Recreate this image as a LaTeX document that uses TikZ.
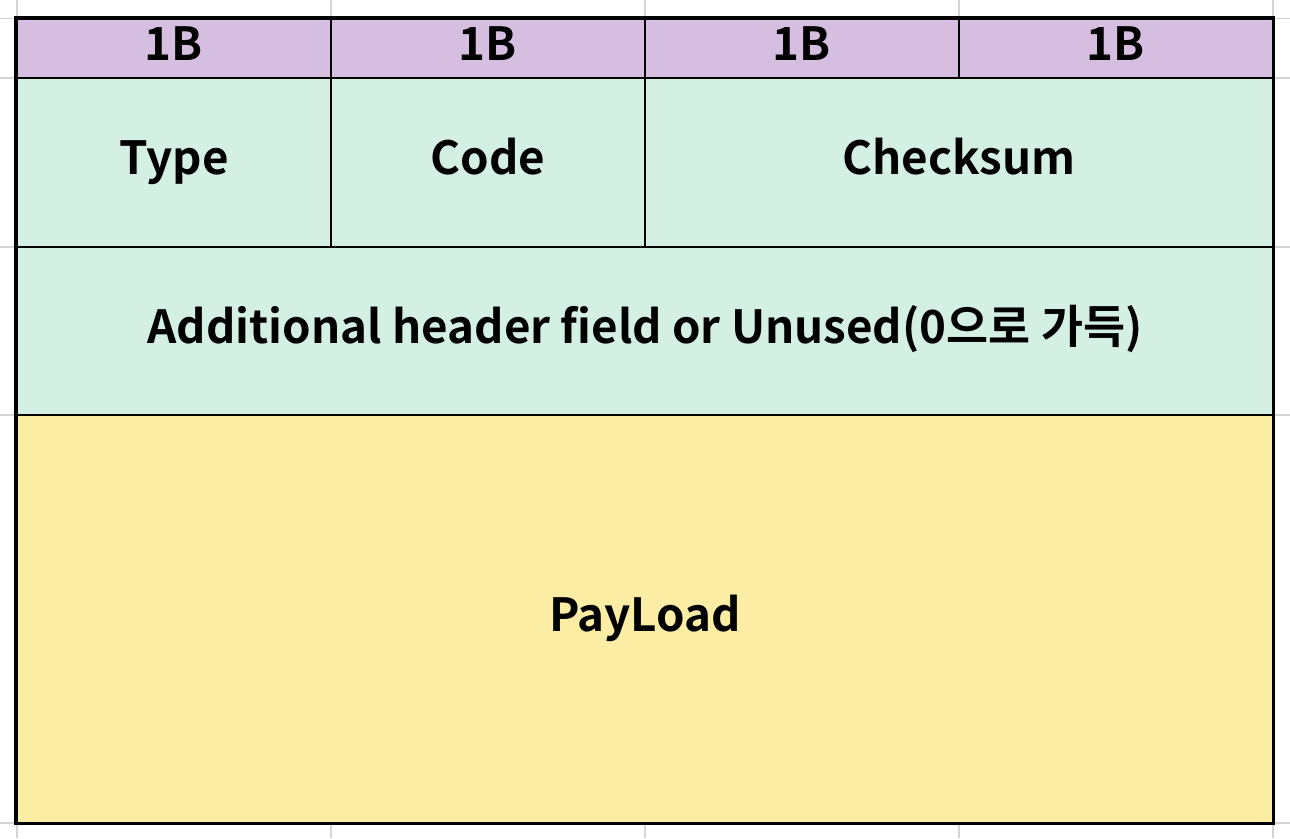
\documentclass[tikz,border=0pt]{standalone}
\usepackage{fontspec}
\setmainfont{Noto Sans CJK KR}[BoldFont={Noto Sans CJK KR Bold}]
\usetikzlibrary{positioning}
\definecolor{headerpurple}{RGB}{214,190,224}
\definecolor{fieldmint}{RGB}{212,239,227}
\definecolor{payloadyellow}{RGB}{251,238,164}
\definecolor{sheetgrid}{RGB}{212,212,212}
\tikzset{
  cell/.style={rectangle, draw=black, inner sep=0pt, text height=19pt, text depth=5.2pt,
    font=\fontsize{26}{30}\selectfont\bfseries},
  bytecell/.style={cell, fill=headerpurple, line width=1.6pt, minimum width=6.28cm, minimum height=1.19cm},
  fieldcell/.style={cell, fill=fieldmint, line width=0.8pt},
}

\begin{document}
\begin{tikzpicture}
\useasboundingbox (0,0) rectangle (25.8,16.76);
% Spreadsheet grid behind the table
\foreach \gx in {0.34,6.62,12.90,19.18,25.46}
  \draw[sheetgrid, line width=0.8pt] (\gx,0) -- (\gx,16.76);
\foreach \gy in {16.39,15.20,11.82,8.46,0.30}
  \draw[sheetgrid, line width=0.8pt] (0,\gy) -- (25.8,\gy);

% Field rows
\node[fieldcell, minimum width=6.28cm, minimum height=3.38cm] (type) at (3.48,13.51) {Type};
\node[fieldcell, minimum width=6.28cm, minimum height=3.38cm] (code) at (9.76,13.51) {Code};
\node[fieldcell, minimum width=12.56cm, minimum height=3.38cm] (checksum) at (19.18,13.51) {Checksum};
\node[fieldcell, minimum width=25.12cm, minimum height=3.36cm] (extra) at (12.90,10.14) {Additional header field or Unused(0으로 가득)};
\node[fieldcell, fill=payloadyellow, minimum width=25.12cm, minimum height=8.16cm] (payload) at (12.90,4.38) {PayLoad};

% Byte widths
\node[bytecell] (byteA) at (3.48,15.795) {1B};
\node[bytecell] (byteB) at (9.76,15.795) {1B};
\node[bytecell] (byteC) at (16.04,15.795) {1B};
\node[bytecell] (byteD) at (22.32,15.795) {1B};

% Outer frame
\draw[line width=1.6pt] (byteA.north west) rectangle (payload.south east);
\end{tikzpicture}
\end{document}
